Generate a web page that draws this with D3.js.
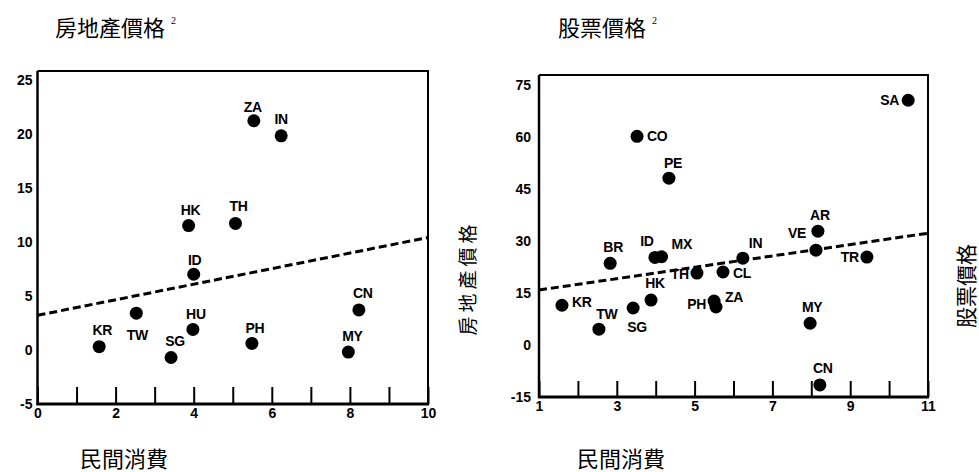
<!DOCTYPE html>
<html>
<head>
<meta charset="utf-8">
<script src="https://cdn.jsdelivr.net/npm/d3@7"></script>
<style>
  body { margin: 0; background: #fff; }
  svg { display: block; }
  .tick text { font-family: "Liberation Sans", Arial, sans-serif; font-size: 14px; font-weight: bold; fill: #000; }
  .pt-label { font-family: "Liberation Sans", Arial, sans-serif; font-size: 14px; font-weight: bold; fill: #000; letter-spacing: -0.3px; }
  .cjk { font-family: "Noto Sans CJK TC", sans-serif; fill: #000; }
</style>
</head>
<body>
<script>
// left panel: house prices vs private consumption
const housingCountries   = ["KR", "TW", "SG", "HU", "ID", "HK", "TH", "PH", "ZA", "IN", "MY", "CN"];
const housingConsumption = [1.58, 2.53, 3.42, 3.98, 4.0, 3.87, 5.07, 5.49, 5.54, 6.24, 7.96, 8.23];
const housingPrices      = [0.3, 3.4, -0.7, 1.9, 7.0, 11.5, 11.7, 0.6, 21.2, 19.8, -0.2, 3.7];
const housingFitX = [0, 10];
const housingFitY = [3.2, 10.4];

// right panel: stock prices vs private consumption
const stockCountries   = ["SA", "CO", "PE", "AR", "VE", "TR", "IN", "ID", "MX", "BR", "TH", "CL", "HK", "KR", "PH", "ZA", "SG", "TW", "MY", "CN"];
const stockConsumption = [10.49, 3.52, 4.34, 8.17, 8.12, 9.43, 6.24, 3.98, 4.15, 2.83, 5.06, 5.73, 3.88, 1.59, 5.5, 5.55, 3.42, 2.54, 7.97, 8.22];
const stockPrices      = [70.7, 60.3, 48.2, 32.9, 27.4, 25.4, 25.1, 25.3, 25.5, 23.6, 20.8, 21.1, 13.0, 11.5, 12.7, 11.0, 10.7, 4.6, 6.3, -11.5];
const stockFitX = [1, 11];
const stockFitY = [15.9, 32.3];

const housingYTicks = [-5, 0, 5, 10, 15, 20, 25];
const housingXTicks = d3.range(0, 11);
const stockYTicks = [-15, 0, 15, 30, 45, 60, 75];
const stockXTicks = d3.range(1, 12);

// label placement around each dot: [dx, dy, anchor]
const housingLabelPos = {
  KR: [3, -12, "middle"], TW: [1, 27, "middle"], SG: [4, -12, "middle"], HU: [3, -10, "middle"],
  ID: [1, -9, "middle"], HK: [2, -11, "middle"], TH: [3, -12, "middle"], PH: [3, -10, "middle"],
  ZA: [-1, -9, "middle"], IN: [0, -12, "middle"], MY: [4, -11, "middle"], CN: [4, -12, "middle"]
};
const stockLabelPos = {
  SA: [-9, 5, "end"], CO: [10, 5, "start"], PE: [4, -10, "middle"], AR: [2, -11, "middle"],
  VE: [-10, -12, "end"], TR: [-8, 5, "end"], IN: [6, -10, "start"], ID: [-8, -11, "middle"],
  MX: [10, -8, "start"], BR: [3, -11, "middle"], TH: [-8, 6, "end"], CL: [10, 6, "start"],
  HK: [4, -12, "middle"], KR: [10, 2, "start"], PH: [-8, 8, "end"], ZA: [9, -5, "start"],
  SG: [4, 24, "middle"], TW: [8, -10, "middle"], MY: [2, -11, "middle"], CN: [3, -12, "middle"]
};

const svg = d3.select("body").append("svg")
  .attr("width", 979)
  .attr("height", 472);

function drawPanel(opts) {
  let x = d3.scaleLinear().domain(opts.xDomain).range(opts.xRange);
  let y = d3.scaleLinear().domain(opts.yDomain).range(opts.yRange);
  let g = svg.append("g");

  // frame: top and right thin lines
  g.append("path")
    .attr("d", "M" + x(opts.xDomain[0]) + "," + y(opts.yDomain[1]) +
               "H" + x(opts.xDomain[1]) + "V" + y(opts.yDomain[0]))
    .attr("fill", "none").attr("stroke", "#000").attr("stroke-width", 2);

  // y axis
  g.append("g")
    .attr("transform", "translate(" + x(opts.xDomain[0]) + ",0)")
    .call(d3.axisLeft(y).tickValues(opts.yTicks).tickSize(0).tickPadding(opts.yPad)
      .tickFormat(function(d) { return String(d); }))
    .call(function(a) { a.select(".domain").remove(); });
  g.append("line")
    .attr("x1", x(opts.xDomain[0])).attr("x2", x(opts.xDomain[0]))
    .attr("y1", y(opts.yDomain[1])).attr("y2", y(opts.yDomain[0]) + 1)
    .attr("stroke", "#000").attr("stroke-width", 2.5);

  // x axis with inward ticks
  g.append("g")
    .attr("transform", "translate(0," + y(opts.yDomain[0]) + ")")
    .call(d3.axisBottom(x).tickValues(opts.xTicks).tickSize(-opts.tickLen).tickPadding(4)
      .tickFormat(function(d) { return opts.xLabelled(d) ? String(d) : ""; }))
    .call(function(a) {
      a.select(".domain").remove();
      a.selectAll(".tick line").attr("stroke", "#000").attr("stroke-width", 2);
    });
  g.append("line")
    .attr("x1", x(opts.xDomain[0]) - 1).attr("x2", x(opts.xDomain[1]) + 1)
    .attr("y1", y(opts.yDomain[0])).attr("y2", y(opts.yDomain[0]))
    .attr("stroke", "#000").attr("stroke-width", 3);

  // fitted dashed line
  let fit = opts.fitX.map(function(v, i) { return [v, opts.fitY[i]]; });
  g.append("path")
    .datum(fit)
    .attr("d", d3.line().x(function(d) { return x(d[0]); }).y(function(d) { return y(d[1]); }))
    .attr("fill", "none").attr("stroke", "#000").attr("stroke-width", 3)
    .attr("stroke-dasharray", "8,4");

  let pts = opts.names.map(function(n, i) { return {name: n, cx: opts.xs[i], cy: opts.ys[i]}; });

  g.selectAll("circle.dot")
    .data(pts)
    .enter().append("circle")
      .attr("class", "dot")
      .attr("r", 6.5)
      .attr("cx", function(d) { return x(d.cx); })
      .attr("cy", function(d) { return y(d.cy); })
      .attr("fill", "#000");

  g.selectAll("text.pt-label")
    .data(pts)
    .enter().append("text")
      .attr("class", "pt-label")
      .attr("x", function(d) { return x(d.cx) + opts.labelPos[d.name][0]; })
      .attr("y", function(d) { return y(d.cy) + opts.labelPos[d.name][1]; })
      .attr("text-anchor", function(d) { return opts.labelPos[d.name][2]; })
      .text(function(d) { return d.name; });
}

drawPanel({
  xDomain: [0, 10], xRange: [37.5, 428],
  yDomain: [-5, 25.8], yRange: [404, 71],
  yTicks: housingYTicks, xTicks: housingXTicks, yPad: 5, tickLen: 17,
  xLabelled: function(d) { return d % 2 === 0; },
  fitX: housingFitX, fitY: housingFitY,
  names: housingCountries, xs: housingConsumption, ys: housingPrices,
  labelPos: housingLabelPos
});

drawPanel({
  xDomain: [1, 11], xRange: [539, 928],
  yDomain: [-15, 78], yRange: [397, 75],
  yTicks: stockYTicks, xTicks: stockXTicks, yPad: 8, tickLen: 16,
  xLabelled: function(d) { return d % 2 === 1; },
  fitX: stockFitX, fitY: stockFitY,
  names: stockCountries, xs: stockConsumption, ys: stockPrices,
  labelPos: stockLabelPos
});

// titles
function title(x, y, txt) {
  let t = svg.append("text").attr("class", "cjk").attr("x", x).attr("y", y)
    .attr("font-size", 22).text(txt);
  t.append("tspan").attr("dx", 6).attr("dy", -12).attr("font-size", 10)
    .attr("font-family", "Liberation Serif, serif").text("2");
}
title(55, 36, "房地產價格");
title(558, 36, "股票價格");

svg.append("text").attr("class", "cjk").attr("x", 80).attr("y", 467)
  .attr("font-size", 22).text("民間消費");
svg.append("text").attr("class", "cjk").attr("x", 577).attr("y", 467)
  .attr("font-size", 22).text("民間消費");

// vertical side labels
svg.append("text").attr("class", "cjk")
  .attr("transform", "translate(475,278) rotate(-90)")
  .attr("text-anchor", "middle").attr("font-size", 19).attr("letter-spacing", 4)
  .text("房地產價格");
svg.append("text").attr("class", "cjk")
  .attr("transform", "translate(974,286) rotate(-90)")
  .attr("text-anchor", "middle").attr("font-size", 21)
  .text("股票價格");
</script>
</body>
</html>
